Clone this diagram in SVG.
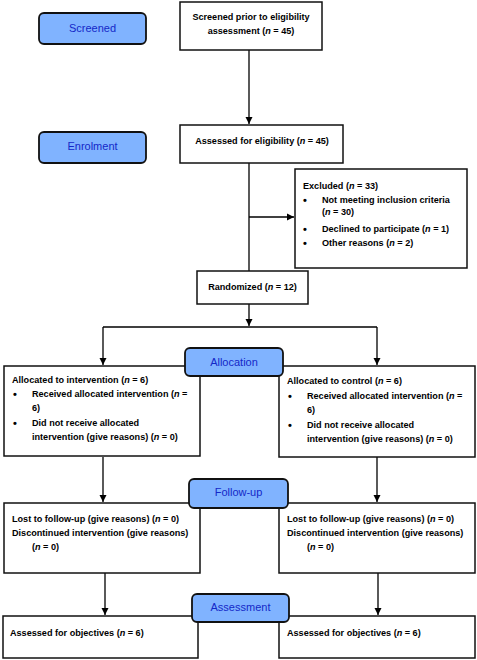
<svg xmlns="http://www.w3.org/2000/svg" width="477" height="660" viewBox="0 0 477 660">
<defs>
<marker id="ah" markerWidth="8" markerHeight="8" refX="7" refY="4" orient="auto" markerUnits="userSpaceOnUse">
<path d="M0,0.5 L7,4 L0,7.5 Z" fill="#000"/>
</marker>
<style>
.box{fill:#fff;stroke:#111;stroke-width:1.5}
.pill{fill:#80b3ff;stroke:#111;stroke-width:1.8}
.pt{font-family:"Liberation Sans",Arial,sans-serif;font-size:11px;fill:#1428c8;text-anchor:middle}
.t{font-family:"Liberation Sans",Arial,sans-serif;font-size:9.1px;font-weight:bold;fill:#000}
.b{font-size:11px}
.c{text-anchor:middle}
.i{font-style:italic}
.ln{fill:none;stroke:#000;stroke-width:1.3}
</style>
</defs>
<rect width="477" height="660" fill="#fff"/>
<g id="connectors">
<path class="ln" d="M249,50 V124" marker-end="url(#ah)"/>
<path class="ln" d="M249,163 V271"/>
<path class="ln" d="M249,217 H294" marker-end="url(#ah)"/>
<path class="ln" d="M249,304 V326" marker-end="url(#ah)"/>
<path class="ln" d="M103,327 H377"/>
<path class="ln" d="M103,327 V365" marker-end="url(#ah)"/>
<path class="ln" d="M377,327 V365" marker-end="url(#ah)"/>
<path class="ln" d="M103,457 V502" marker-end="url(#ah)"/>
<path class="ln" d="M377,457 V502" marker-end="url(#ah)"/>
<path class="ln" d="M105,573 V615" marker-end="url(#ah)"/>
<path class="ln" d="M378,573 V615" marker-end="url(#ah)"/>
</g>
<g id="screened-box">
<rect class="box" x="180" y="2" width="142" height="48"/>
<text class="t c" x="251" y="20">Screened prior to eligibility</text>
<text class="t c" x="251" y="34">assessment (<tspan class="i">n</tspan> = 45)</text>
</g>
<g id="assessed-box">
<rect class="box" x="180" y="125" width="163" height="38"/>
<text class="t c" x="262" y="143.5">Assessed for eligibility (<tspan class="i">n</tspan> = 45)</text>
</g>
<g id="excluded-box">
<rect class="box" x="295" y="169" width="172" height="99"/>
<text class="t" x="303" y="189">Excluded (<tspan class="i">n</tspan> = 33)</text>
<text class="t b" x="303" y="204">•</text>
<text class="t" x="322" y="203">Not meeting inclusion criteria</text>
<text class="t" x="322" y="215">(<tspan class="i">n</tspan> = 30)</text>
<text class="t b" x="303" y="233">•</text>
<text class="t" x="322" y="232">Declined to participate (<tspan class="i">n</tspan> = 1)</text>
<text class="t b" x="303" y="247">•</text>
<text class="t" x="322" y="246">Other reasons (<tspan class="i">n</tspan> = 2)</text>
</g>
<g id="randomized-box">
<rect class="box" x="197" y="271" width="111" height="33"/>
<text class="t c" x="252.5" y="290">Randomized (<tspan class="i">n</tspan> = 12)</text>
</g>
<g id="alloc-left">
<rect class="box" x="4" y="366" width="196" height="90"/>
<text class="t" x="12" y="383">Allocated to intervention (<tspan class="i">n</tspan> = 6)</text>
<text class="t b" x="13" y="398">•</text>
<text class="t" x="32" y="397">Received allocated intervention (<tspan class="i">n</tspan> =</text>
<text class="t" x="32" y="411">6)</text>
<text class="t b" x="13" y="427">•</text>
<text class="t" x="32" y="426">Did not receive allocated</text>
<text class="t" x="32" y="440">intervention (give reasons) (<tspan class="i">n</tspan> = 0)</text>
</g>
<g id="alloc-right">
<rect class="box" x="279" y="366" width="196" height="91"/>
<text class="t" x="287" y="384">Allocated to control (<tspan class="i">n</tspan> = 6)</text>
<text class="t b" x="288" y="400">•</text>
<text class="t" x="307" y="399">Received allocated intervention (<tspan class="i">n</tspan> =</text>
<text class="t" x="307" y="413">6)</text>
<text class="t b" x="288" y="429">•</text>
<text class="t" x="307" y="428">Did not receive allocated</text>
<text class="t" x="307" y="442">intervention (give reasons) (<tspan class="i">n</tspan> = 0)</text>
</g>
<g id="followup-left">
<rect class="box" x="4" y="503" width="196" height="70"/>
<text class="t" x="12" y="522">Lost to follow-up (give reasons) (<tspan class="i">n</tspan> = 0)</text>
<text class="t" x="12" y="536">Discontinued intervention (give reasons)</text>
<text class="t" x="32" y="550">(<tspan class="i">n</tspan> = 0)</text>
</g>
<g id="followup-right">
<rect class="box" x="279" y="503" width="196" height="70"/>
<text class="t" x="287" y="522">Lost to follow-up (give reasons) (<tspan class="i">n</tspan> = 0)</text>
<text class="t" x="287" y="536">Discontinued intervention (give reasons)</text>
<text class="t" x="307" y="550">(<tspan class="i">n</tspan> = 0)</text>
</g>
<g id="assess-left">
<rect class="box" x="3" y="616" width="195" height="42"/>
<text class="t" x="10" y="636">Assessed for objectives (<tspan class="i">n</tspan> = 6)</text>
</g>
<g id="assess-right">
<rect class="box" x="279" y="616" width="196" height="42"/>
<text class="t" x="287" y="636">Assessed for objectives (<tspan class="i">n</tspan> = 6)</text>
</g>
<g id="stage-screened">
<rect class="pill" x="39" y="13" width="107" height="31" rx="5"/>
<text class="pt" x="92.5" y="32">Screened</text>
</g>
<g id="stage-enrolment">
<rect class="pill" x="39" y="132" width="107" height="31" rx="5"/>
<text class="pt" x="92.5" y="149.5">Enrolment</text>
</g>
<g id="stage-allocation">
<rect class="pill" x="185" y="348" width="98" height="28" rx="5"/>
<text class="pt" x="234" y="365.5">Allocation</text>
</g>
<g id="stage-followup">
<rect class="pill" x="189" y="479" width="99" height="29" rx="5"/>
<text class="pt" x="238.5" y="496">Follow-up</text>
</g>
<g id="stage-assessment">
<rect class="pill" x="192" y="594" width="97" height="28" rx="5"/>
<text class="pt" x="240.5" y="610.5">Assessment</text>
</g>
</svg>
